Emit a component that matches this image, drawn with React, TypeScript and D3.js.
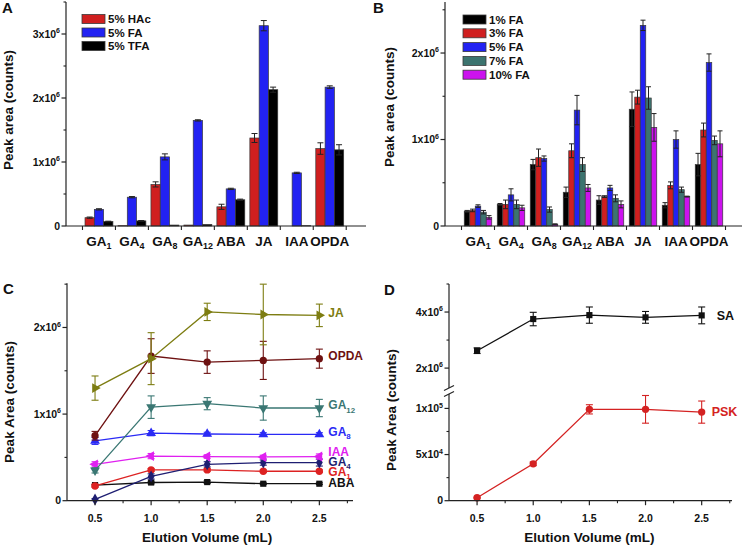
import { useRef, useEffect } from "react";
import * as d3 from "d3";

const FONT = "'Liberation Sans', Arial, Helvetica, sans-serif";

// shared categories for the bar panels ("_" marks a subscript)
const categories = ["GA_1", "GA_4", "GA_8", "GA_12", "ABA", "JA", "IAA", "OPDA"];

// panel A, peak area x10^6
const seriesA = ["5% HAc", "5% FA", "5% TFA"];
const colorsA = ["#d01f1f", "#2222f2", "#000000"];
const hacA = [0.13, 0.005, 0.65, 0.015, 0.3, 1.375, 0, 1.21];
const faA = [0.26, 0.45, 1.08, 1.65, 0.58, 3.13, 0.83, 2.17];
const tfaA = [0.07, 0.08, 0.015, 0.025, 0.41, 2.13, 0.005, 1.19];
const hacErrA = [0.01, 0, 0.04, 0, 0.04, 0.07, 0, 0.09];
const faErrA = [0.01, 0.01, 0.047, 0.01, 0.01, 0.08, 0.01, 0.02];
const tfaErrA = [0.005, 0.005, 0, 0, 0.01, 0.04, 0, 0.08];

// panel B, peak area x10^6
const seriesB = ["1% FA", "3% FA", "5% FA", "7% FA", "10% FA"];
const colorsB = ["#000000", "#d01f1f", "#2222f2", "#3c746f", "#cc12ee"];
const fa1B = [0.17, 0.25, 0.71, 0.39, 0.3, 1.35, 0.24, 0.71];
const fa3B = [0.18, 0.25, 0.79, 0.87, 0.34, 1.49, 0.47, 1.11];
const fa5B = [0.23, 0.36, 0.78, 1.34, 0.44, 2.32, 1.0, 1.89];
const fa7B = [0.16, 0.25, 0.19, 0.71, 0.32, 1.48, 0.42, 0.99];
const fa10B = [0.1, 0.21, 0.02, 0.44, 0.25, 1.14, 0.34, 0.95];
const fa1ErrB = [0.01, 0.01, 0.06, 0.06, 0.05, 0.2, 0.03, 0.13];
const fa3ErrB = [0.015, 0.05, 0.1, 0.08, 0.01, 0.08, 0.04, 0.08];
const fa5ErrB = [0.015, 0.07, 0.03, 0.17, 0.03, 0.06, 0.1, 0.1];
const fa7ErrB = [0.02, 0.05, 0.03, 0.08, 0.04, 0.13, 0.03, 0.05];
const fa10ErrB = [0.02, 0.03, 0.005, 0.04, 0.04, 0.16, 0.005, 0.15];

// panel C, peak area x10^6 against elution volume
const volumes = [0.5, 1.0, 1.5, 2.0, 2.5];
const seriesC = ["ABA", "GA_1", "GA_4", "IAA", "GA_8", "GA_12", "OPDA", "JA"];
const colorsC = ["#111111", "#dd2222", "#1e1e72", "#e020f0", "#2a2af5", "#3a7773", "#6e1111", "#7d7d12"];
const shapesC = ["square", "circle", "diamond", "left", "up", "down", "circle", "right"];
const abaC = [0.18, 0.21, 0.215, 0.196, 0.196];
const ga1C = [0.17, 0.355, 0.355, 0.34, 0.34];
const ga4C = [0.015, 0.28, 0.42, 0.44, 0.44];
const iaaC = [0.42, 0.515, 0.51, 0.505, 0.51];
const ga8C = [0.69, 0.78, 0.77, 0.765, 0.765];
const ga12C = [0.35, 1.08, 1.12, 1.07, 1.07];
const opdaC = [0.75, 1.67, 1.6, 1.62, 1.64];
const jaC = [1.3, 1.64, 2.18, 2.15, 2.14];
const abaErrC = [0.01, 0.015, 0.015, 0.01, 0.01];
const ga1ErrC = [0.015, 0.015, 0.015, 0.015, 0.015];
const ga4ErrC = [0.01, 0.03, 0.03, 0.03, 0.04];
const iaaErrC = [0.03, 0.03, 0.02, 0.02, 0.03];
const ga8ErrC = [0.04, 0.03, 0.02, 0.02, 0.02];
const ga12ErrC = [0.03, 0.13, 0.07, 0.14, 0.1];
const opdaErrC = [0.05, 0.2, 0.13, 0.22, 0.11];
const jaErrC = [0.14, 0.3, 0.1, 0.35, 0.13];

// panel D: SA x10^6 (upper axis), PSK x10^5 (lower axis)
const saD = [2.62, 3.75, 3.89, 3.81, 3.88];
const saErrD = [0.1, 0.24, 0.29, 0.21, 0.3];
const pskD = [0.032, 0.4, 0.99, 0.99, 0.96];
const pskErrD = [0.005, 0.02, 0.05, 0.15, 0.12];

const App = () => {
  const container = useRef<SVGSVGElement>(null);
  useEffect(() => {
    draw();
  });

  const draw = () => {
    const svg = d3.select(container.current);
    svg.selectAll("*").remove();
    const root = svg
      .append("g")
      .attr("font-family", FONT)
      .attr("font-weight", "bold")
      .attr("fill", "#111");

    const sciText = (g: any, x: number, y: number, label: string, size = 10.5) => {
      // label like "3x10^6"
      const [mant, exp] = label.split("^");
      const t = g
        .append("text")
        .attr("x", x)
        .attr("y", y)
        .attr("text-anchor", "end")
        .attr("font-size", size)
        .attr("dy", "0.35em");
      t.append("tspan").text(mant);
      if (exp) t.append("tspan").attr("dy", -4.5).attr("font-size", 7).text(exp);
    };

    const subText = (g: any, x: number, y: number, label: string, size: number, anchor: string) => {
      const [base, sub] = label.split("_");
      const t = g
        .append("text")
        .attr("x", x)
        .attr("y", y)
        .attr("text-anchor", anchor)
        .attr("font-size", size);
      t.append("tspan").text(base);
      if (sub) t.append("tspan").attr("dy", size * 0.28).attr("font-size", size * 0.66).text(sub);
      return t;
    };

    const yLabel = (text: string, cx: number, cy: number) => {
      root
        .append("text")
        .attr("transform", `translate(${cx},${cy}) rotate(-90)`)
        .attr("text-anchor", "middle")
        .attr("dy", "0.35em")
        .attr("font-size", 13.5)
        .text(text);
    };

    const yAxis = (g: any, x: number, y: any, y1: number, y2: number, major: number[], labels: string[], minor: number[]) => {
      g.append("line").attr("x1", x).attr("x2", x).attr("y1", y1).attr("y2", y2).attr("stroke", "#222").attr("stroke-width", 1.2);
      major.forEach((v, i) => {
        g.append("line").attr("x1", x - 4.5).attr("x2", x).attr("y1", y(v)).attr("y2", y(v)).attr("stroke", "#222").attr("stroke-width", 1.2);
        sciText(g, x - 6, y(v), labels[i]);
      });
      minor.forEach((v) => {
        g.append("line").attr("x1", x - 2.5).attr("x2", x).attr("y1", y(v)).attr("y2", y(v)).attr("stroke", "#222").attr("stroke-width", 1.1);
      });
    };

    // ---------- bar panels ----------
    const barPanel = (p: any) => {
      const g = root.append("g");
      const x = d3.scaleLinear().domain([0, p.xMax]).range([p.left, p.right]);
      const y = d3.scaleLinear().domain([0, p.yMax]).range([p.bottom, p.top]);
      const n = p.values.length;

      p.values.forEach((vals: number[], s: number) => {
        const off = (s - (n - 1) / 2) * p.barW;
        g.selectAll(null)
          .data(vals)
          .join("rect")
          .attr("x", (d: number, i: number) => x(i + 1) + off - p.barW / 2)
          .attr("y", (d: number) => y(d))
          .attr("width", p.barW)
          .attr("height", (d: number) => y(0) - y(d))
          .attr("fill", p.colors[s])
          .attr("stroke", "#3a3a3a")
          .attr("stroke-width", 0.7);
      });

      p.values.forEach((vals: number[], s: number) => {
        const off = (s - (n - 1) / 2) * p.barW;
        const errs = p.errors[s];
        vals.forEach((v: number, i: number) => {
          const e = errs[i];
          if (!e) return;
          const cx = x(i + 1) + off;
          const eg = g.append("g").attr("stroke", "#222").attr("stroke-width", 1);
          eg.append("line").attr("x1", cx).attr("x2", cx).attr("y1", y(v + e)).attr("y2", y(Math.max(0, v - e)));
          eg.append("line").attr("x1", cx - p.cap).attr("x2", cx + p.cap).attr("y1", y(v + e)).attr("y2", y(v + e));
          eg.append("line").attr("x1", cx - p.cap).attr("x2", cx + p.cap).attr("y1", y(Math.max(0, v - e))).attr("y2", y(Math.max(0, v - e)));
        });
      });

      yAxis(g, p.left, y, p.top, p.bottom, p.major, p.majorLabels, p.minor);
      g.append("line").attr("x1", p.left).attr("x2", p.right).attr("y1", p.bottom).attr("y2", p.bottom).attr("stroke", "#222").attr("stroke-width", 1.2);
      d3.range(0, categories.length + 1).forEach((k) => {
        g.append("line").attr("x1", x(k + 0.5)).attr("x2", x(k + 0.5)).attr("y1", p.bottom).attr("y2", p.bottom + 4).attr("stroke", "#222").attr("stroke-width", 1.1);
      });
      categories.forEach((c, i) => subText(g, x(i + 1), p.bottom + 19.5, c, 13.5, "middle"));

      // legend
      p.series.forEach((name: string, s: number) => {
        const cy = p.legendY + s * p.legendStep;
        g.append("rect").attr("x", p.legendX).attr("y", cy - 4.5).attr("width", 23).attr("height", 9).attr("fill", p.colors[s]).attr("stroke", "#3a3a3a").attr("stroke-width", 0.8);
        g.append("text").attr("x", p.legendX + 26).attr("y", cy).attr("dy", "0.36em").attr("font-size", 11.5).text(name);
      });
    };

    barPanel({
      left: 66, right: 366, bottom: 226, top: 2, xMax: 9.1, yMax: 3.5,
      values: [hacA, faA, tfaA], errors: [hacErrA, faErrA, tfaErrA],
      colors: colorsA, series: seriesA, barW: 9.3, cap: 3,
      major: [0, 1, 2, 3], majorLabels: ["0", "1x10^6", "2x10^6", "3x10^6"], minor: [0.5, 1.5, 2.5, 3.5],
      legendX: 82, legendY: 19, legendStep: 13.5,
    });
    barPanel({
      left: 445, right: 742, bottom: 226, top: 2, xMax: 9.0, yMax: 2.59,
      values: [fa1B, fa3B, fa5B, fa7B, fa10B], errors: [fa1ErrB, fa3ErrB, fa5ErrB, fa7ErrB, fa10ErrB],
      colors: colorsB, series: seriesB, barW: 5.5, cap: 2.5,
      major: [0, 1, 2], majorLabels: ["0", "1x10^6", "2x10^6"], minor: [0.5, 1.5, 2.5],
      legendX: 463, legendY: 19.5, legendStep: 13.8,
    });
    yLabel("Peak area (counts)", 8, 110);
    yLabel("Peak area (counts)", 389, 107);

    // ---------- line helpers ----------
    const symbolFor = (shape: string) => {
      if (shape === "square") return { type: d3.symbolSquare, rot: 0, size: 38 };
      if (shape === "circle") return { type: d3.symbolCircle, rot: 0, size: 42 };
      if (shape === "diamond") return { type: d3.symbolDiamond, rot: 0, size: 40 };
      const rot = { up: 0, right: 90, down: 180, left: -90 }[shape] || 0;
      return { type: d3.symbolTriangle, rot, size: 42 };
    };

    const series = (g: any, x: any, y: any, vals: number[], errs: number[], color: string, shape: string) => {
      const line = d3.line<number>().x((d, i) => x(volumes[i])).y((d) => y(d));
      g.append("path").datum(vals).attr("d", line).attr("fill", "none").attr("stroke", color).attr("stroke-width", 1.3);
      vals.forEach((v, i) => {
        const cx = x(volumes[i]);
        const eg = g.append("g").attr("stroke", color).attr("stroke-width", 1.1);
        eg.append("line").attr("x1", cx).attr("x2", cx).attr("y1", y(v + errs[i])).attr("y2", y(v - errs[i]));
        eg.append("line").attr("x1", cx - 3.5).attr("x2", cx + 3.5).attr("y1", y(v + errs[i])).attr("y2", y(v + errs[i]));
        eg.append("line").attr("x1", cx - 3.5).attr("x2", cx + 3.5).attr("y1", y(v - errs[i])).attr("y2", y(v - errs[i]));
      });
      const sym = symbolFor(shape);
      g.selectAll(null)
        .data(vals)
        .join("path")
        .attr("d", d3.symbol().type(sym.type).size(sym.size))
        .attr("transform", (d: number, i: number) => `translate(${x(volumes[i])},${y(d)}) rotate(${sym.rot})`)
        .attr("fill", color);
    };

    const xAxisVol = (g: any, x: any, x1: number, x2: number, yb: number) => {
      g.append("line").attr("x1", x1).attr("x2", x2).attr("y1", yb).attr("y2", yb).attr("stroke", "#222").attr("stroke-width", 1.2);
      volumes.forEach((v) => {
        g.append("line").attr("x1", x(v)).attr("x2", x(v)).attr("y1", yb).attr("y2", yb + 4.5).attr("stroke", "#222").attr("stroke-width", 1.2);
        g.append("text").attr("x", x(v)).attr("y", yb + 21).attr("text-anchor", "middle").attr("font-size", 10.5).text(d3.format(".1f")(v));
      });
      [0.75, 1.25, 1.75, 2.25, 2.75].forEach((v) => {
        g.append("line").attr("x1", x(v)).attr("x2", x(v)).attr("y1", yb).attr("y2", yb + 2.5).attr("stroke", "#222").attr("stroke-width", 1.1);
      });
      g.append("text").attr("x", x(1.5)).attr("y", yb + 41).attr("text-anchor", "middle").attr("font-size", 13.5).text("Elution Volume (mL)");
    };

    // ---------- panel C ----------
    const gC = root.append("g");
    const xC = d3.scaleLinear().domain([0.25, 2.8]).range([67, 353]);
    const yC = d3.scaleLinear().domain([0, 2.51]).range([500.7, 283.3]);
    const valsC = [abaC, ga1C, ga4C, iaaC, ga8C, ga12C, opdaC, jaC];
    const errsC = [abaErrC, ga1ErrC, ga4ErrC, iaaErrC, ga8ErrC, ga12ErrC, opdaErrC, jaErrC];
    const labelNudgeC = [-1, 0.5, -1, -4.5, -3, -3, -2.5, -3];
    valsC.forEach((vals, s) => series(gC, xC, yC, vals, errsC[s], colorsC[s], shapesC[s]));
    valsC.forEach((vals, s) => {
      subText(gC, xC(2.5) + 9, yC(vals[vals.length - 1]) + labelNudgeC[s] + 4.2, seriesC[s], 12, "start").attr("fill", colorsC[s]);
    });
    yAxis(gC, 67, yC, 283.3, 500.7, [0, 1, 2], ["0", "1x10^6", "2x10^6"], [0.5, 1.5, 2.5]);
    xAxisVol(gC, xC, 67, 353, 500.7);
    yLabel("Peak Area (counts)", 9, 402);

    // ---------- panel D ----------
    const gD = root.append("g");
    const xD = d3.scaleLinear().domain([0.25, 2.77]).range([449, 732]);
    const yDU = d3.scaleLinear().domain([1.29, 5]).range([388, 284]);
    const yDL = d3.scaleLinear().domain([0, 1.167]).range([500.7, 393]);
    series(gD, xD, yDU, saD, saErrD, "#111111", "square");
    series(gD, xD, yDL, pskD, pskErrD, "#d42222", "circle");
    gD.append("text").attr("x", xD(2.5) + 15).attr("y", yDU(saD[4])).attr("dy", "0.35em").attr("font-size", 12.5).text("SA");
    gD.append("text").attr("x", xD(2.5) + 10).attr("y", yDL(pskD[4])).attr("dy", "0.35em").attr("font-size", 12.5).attr("fill", "#d42222").text("PSK");
    yAxis(gD, 449, yDU, 284, 388, [2, 4], ["2x10^6", "4x10^6"], [3, 5]);
    yAxis(gD, 449, yDL, 394, 500.7, [0, 0.5, 1], ["0", "5x10^4", "1x10^5"], [0.25, 0.75]);
    [388, 394].forEach((yy) => {
      gD.append("line").attr("x1", 444).attr("x2", 454).attr("y1", yy + 2.5).attr("y2", yy - 2.5).attr("stroke", "#222").attr("stroke-width", 1.1);
    });
    xAxisVol(gD, xD, 449, 732, 500.7);
    yLabel("Peak Area (counts)", 391, 410);

    // panel letters
    [["A", 2, 13], ["B", 373, 13], ["C", 3, 294], ["D", 384, 295]].forEach(([t, x, y]) => {
      root.append("text").attr("x", x).attr("y", y).attr("font-size", 15).text(t as string);
    });
  };

  return (
    <svg
      ref={container}
      width={745}
      height={547}
      style={{ position: "absolute", left: 0, top: 0, background: "#fff" }}
    />
  );
};

export default App;
